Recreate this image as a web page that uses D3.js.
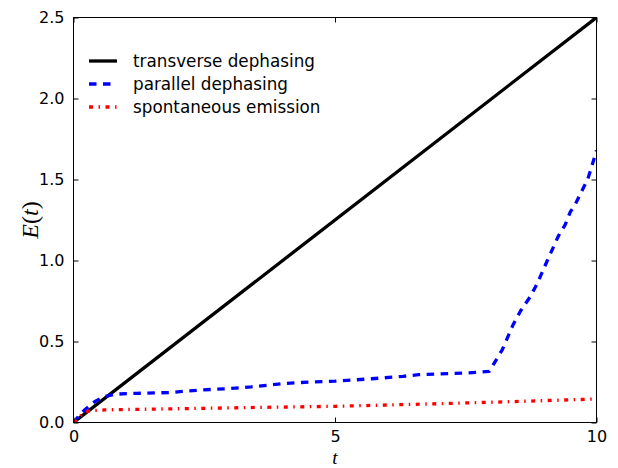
<!DOCTYPE html>
<html>
<head>
<meta charset="utf-8">
<script src="https://cdn.jsdelivr.net/npm/d3@7"></script>
<style>
  html, body { margin: 0; padding: 0; background: #fff; }
  svg { display: block; }
</style>
</head>
<body>
<svg id="chart" width="618" height="468"></svg>
<script>
// ---- data ----
const seriesNames = ["transverse dephasing", "parallel dephasing", "spontaneous emission"];
const transverseT = [0, 10];
const transverseE = [0, 2.5];
const parallelT = [0, 0.1, 0.22, 0.41, 0.6, 0.8, 1.2, 1.85, 2.4, 3.0, 3.4, 4.0, 4.5, 5.0, 5.7, 6.3, 6.6, 7.0, 7.5, 7.95, 8.2, 8.4, 8.55, 8.74, 8.87, 9.06, 9.27, 9.4, 9.5, 9.6, 9.69, 9.83, 9.9, 10];
const parallelE = [0, 0.04, 0.08, 0.13, 0.16, 0.175, 0.18, 0.185, 0.2, 0.21, 0.22, 0.24, 0.25, 0.255, 0.27, 0.285, 0.295, 0.30, 0.305, 0.315, 0.45, 0.6, 0.69, 0.78, 0.86, 1.0, 1.15, 1.22, 1.3, 1.35, 1.41, 1.5, 1.57, 1.68];
const emissionT = [0, 0.1, 0.2, 0.3, 0.6, 1, 2, 3.5, 5, 6.5, 8, 9, 10];
const emissionE = [0, 0.03, 0.06, 0.072, 0.078, 0.08, 0.085, 0.093, 0.1, 0.112, 0.125, 0.135, 0.145];
const xTicks = [0, 5, 10];
const yTicks = [0, 0.5, 1.0, 1.5, 2.0, 2.5];

// ---- layout ----
const L = 73.5, R = 596.5, T = 17.5, B = 422.5;
const svg = d3.select("#chart");
const x = d3.scaleLinear().domain([0, 10]).range([L, R]);
const y = d3.scaleLinear().domain([0, 2.5]).range([B, T]);

svg.append("defs").append("clipPath").attr("id", "clip")
  .append("rect").attr("x", L).attr("y", T).attr("width", R - L).attr("height", B - T);

const LW = 3.3;
const styles = [
  { color: "#000000", dash: null },
  { color: "#0000ff", dash: "7.5,6.5" },
  { color: "#ff0000", dash: "4,5.5,1.5,5.5" }
];
const series = [
  transverseT.map((t, i) => [t, transverseE[i]]),
  parallelT.map((t, i) => [t, parallelE[i]]),
  emissionT.map((t, i) => [t, emissionE[i]])
];
const line = d3.line().x(d => x(d[0])).y(d => y(d[1]));

const g = svg.append("g").attr("clip-path", "url(#clip)");
series.forEach((s, i) => {
  g.append("path").datum(s).attr("d", line)
    .attr("fill", "none").attr("stroke", styles[i].color)
    .attr("stroke-width", LW)
    .attr("stroke-dasharray", styles[i].dash)
    .attr("stroke-linejoin", "round");
});

// axes (inward ticks, classic style)
const font = "DejaVu Sans, sans-serif";
const fmtY = d3.format(".1f");
const axL = d3.axisLeft(y).tickValues(yTicks).tickSizeInner(-5).tickSizeOuter(0).tickPadding(9).tickFormat(fmtY);
const axR = d3.axisRight(y).tickValues(yTicks).tickSizeInner(-5).tickSizeOuter(0).tickFormat("");
const axB = d3.axisBottom(x).tickValues(xTicks).tickSizeInner(-5).tickSizeOuter(0).tickPadding(8).tickFormat(d3.format("d"));
const axT = d3.axisTop(x).tickValues(xTicks).tickSizeInner(-5).tickSizeOuter(0).tickFormat("");

function styleAxis(sel) {
  sel.select(".domain").remove();
  sel.selectAll("line").attr("stroke", "#000").attr("stroke-width", 1);
  sel.selectAll("text").attr("font-family", font).attr("font-size", 16).attr("fill", "#000");
}
svg.append("g").attr("transform", `translate(${L},0)`).call(axL).call(styleAxis);
svg.append("g").attr("transform", `translate(${R},0)`).call(axR).call(styleAxis);
svg.append("g").attr("transform", `translate(0,${B})`).call(axB).call(styleAxis);
svg.append("g").attr("transform", `translate(0,${T})`).call(axT).call(styleAxis);

// frame
svg.append("rect").attr("x", L).attr("y", T).attr("width", R - L).attr("height", B - T)
  .attr("fill", "none").attr("stroke", "#000").attr("stroke-width", 1);

// axis labels
const yl = svg.append("text").attr("transform", "translate(38,220) rotate(-90)")
  .attr("text-anchor", "middle").attr("font-family", "Liberation Serif, serif").attr("font-size", 24);
yl.append("tspan").attr("font-style", "italic").text("E");
yl.append("tspan").text("(");
yl.append("tspan").attr("font-style", "italic").text("t");
yl.append("tspan").text(")");
svg.append("text").attr("x", 335).attr("y", 463.8).attr("text-anchor", "middle")
  .attr("font-family", "Liberation Serif, serif").attr("font-size", 19).attr("font-style", "italic").text("t");

// legend
const legY = [61, 84, 107];
seriesNames.forEach((name, i) => {
  svg.append("line").attr("x1", 89).attr("x2", 117).attr("y1", legY[i]).attr("y2", legY[i])
    .attr("stroke", styles[i].color).attr("stroke-width", LW)
    .attr("stroke-dasharray", styles[i].dash);
  svg.append("text").attr("x", 133).attr("y", legY[i]).attr("dy", "0.35em")
    .attr("font-family", font).attr("font-size", 16.8).attr("fill", "#000").text(name);
});
</script>
</body>
</html>
